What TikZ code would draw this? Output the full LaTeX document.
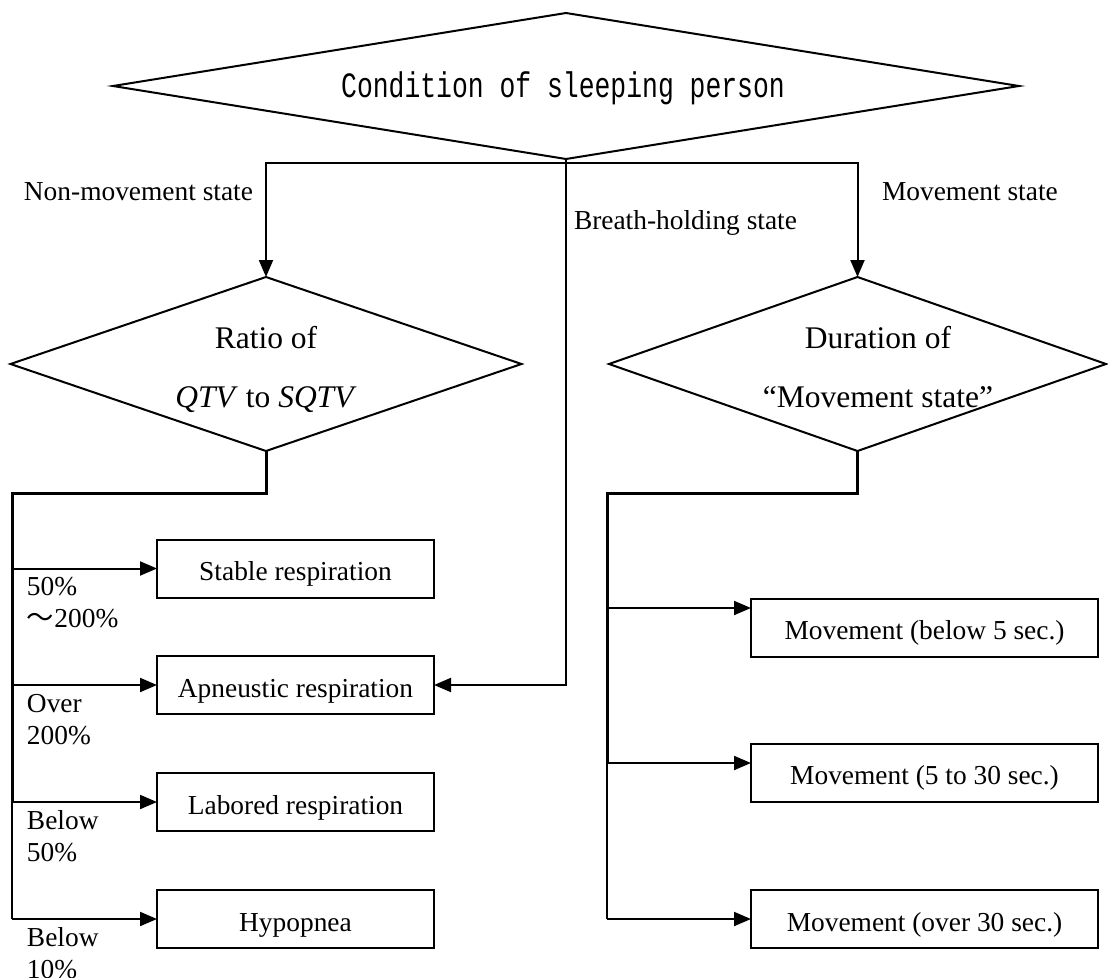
\documentclass[tikz,border=0pt]{standalone}
\usepackage{graphicx}
\usepackage{fontspec}
\setmainfont{Liberation Serif}
\newfontfamily\condmono{Liberation Mono}
\newfontfamily\cjkfont{Noto Sans CJK SC}
\usetikzlibrary{arrows.meta,shapes.geometric}
\begin{document}
\begin{tikzpicture}[x=1pt,y=-1pt,
  every node/.style={inner sep=0pt, outer sep=0pt, font=\fontsize{27.4}{32}\selectfont},
  ln/.style={line width=2pt},
  bold/.style={line width=3pt},
  arr/.style={ln, -{Triangle[length=17pt,width=14pt]}},
  dia/.style={draw, ln, shape=diamond, inner sep=0pt},
  dtext/.style={anchor=base, font=\fontsize{31.5}{36}\selectfont},
  box/.style={draw, ln, rectangle, minimum height=58pt, text height=24pt, text depth=0pt},
  lbl/.style={align=left, anchor=north west}]
\useasboundingbox (0,0) rectangle (1108,977);
\fill[white] (0,0) rectangle (1108,977);

% decision nodes
\node[dia, aspect=6.2, minimum width=906pt, minimum height=146pt] (top) at (566,86) {};
\node[anchor=base] (toptext) at (563,97)
  {\condmono\fontsize{26.4}{30}\selectfont\scalebox{1}[1.35]{Condition of sleeping person}};
\node[dia, aspect=2.9, minimum width=511pt, minimum height=174pt] (ratio) at (266,364) {};
\node[dia, aspect=2.9, minimum width=497pt, minimum height=174pt] (dur) at (857.5,364) {};
\node[dtext] (ratioA) at (266,348) {Ratio of};
\node[dtext] (ratioB) at (266,407) {\textit{QTV} to \textit{SQTV}};
\node[dtext] (durA) at (878,348) {Duration of};
\node[dtext] (durB) at (878,407) {``Movement state''};

% result boxes
\node[box, minimum width=277pt] (stable) at (295.5,568.5) {Stable respiration};
\node[box, minimum width=277pt] (apneu) at (295.5,685) {Apneustic respiration};
\node[box, minimum width=277pt] (labored) at (295.5,802) {Labored respiration};
\node[box, minimum width=277pt] (hypo) at (295.5,919) {Hypopnea};
\node[box, minimum width=347pt] (m1) at (924.5,627.5) {Movement (below 5 sec.)};
\node[box, minimum width=347pt] (m2) at (924.5,772.5) {Movement (5 to 30 sec.)};
\node[box, minimum width=347pt] (m3) at (924.5,919) {Movement (over 30 sec.)};

% branch labels
\node[anchor=base east] (lnon) at (253,200) {Non-movement state};
\node[anchor=base west] (lbreath) at (574,229) {Breath-holding state};
\node[anchor=base west] (lmove) at (882,200) {Movement state};
\node[lbl] (p1) at (27,577.5) {50\%\\{\cjkfont ～}200\%};
\node[lbl] (p2) at (27,694.5) {Over\\200\%};
\node[lbl] (p3) at (27,810.5) {Below\\50\%};
\node[lbl] (p4) at (27,927.5) {Below\\10\%};

% first split
\coordinate (bm) at (566,163);
\coordinate (bl) at (266,163);
\coordinate (br) at (857.5,163);
\draw[ln] (top.south) -- (bm);
\draw[arr] (bm) -- (bl) -- (ratio.north);
\draw[arr] (bm) -- (br) -- (dur.north);
\draw[arr] (bm) -- (bm |- apneu.east) -- (apneu.east);

% ratio branches
\coordinate (lt) at (266,493);
\coordinate (lc) at (12,493);
\coordinate (l1) at (12,568.5);
\coordinate (l2) at (12,685);
\coordinate (l3) at (12,802);
\coordinate (l4) at (12,919);
\draw[bold] (ratio.south) -- (lt) -- (lc) -- (l3);
\draw[ln] (l3) -- (l4);
\draw[arr] (l1) -- (stable.west);
\draw[arr] (l2) -- (apneu.west);
\draw[arr] (l3) -- (labored.west);
\draw[arr] (l4) -- (hypo.west);

% duration branches
\coordinate (rt) at (857.5,493);
\coordinate (rc) at (607,493);
\coordinate (r1) at (607,608);
\coordinate (r2) at (607,763);
\coordinate (r3) at (607,919);
\draw[bold] (dur.south) -- (rt) -- (rc) -- (r2);
\draw[ln] (r2) -- (r3);
\draw[arr] (r1) -- (r1 -| m1.west);
\draw[arr] (r2) -- (r2 -| m2.west);
\draw[arr] (r3) -- (r3 -| m3.west);
\end{tikzpicture}
\end{document}
